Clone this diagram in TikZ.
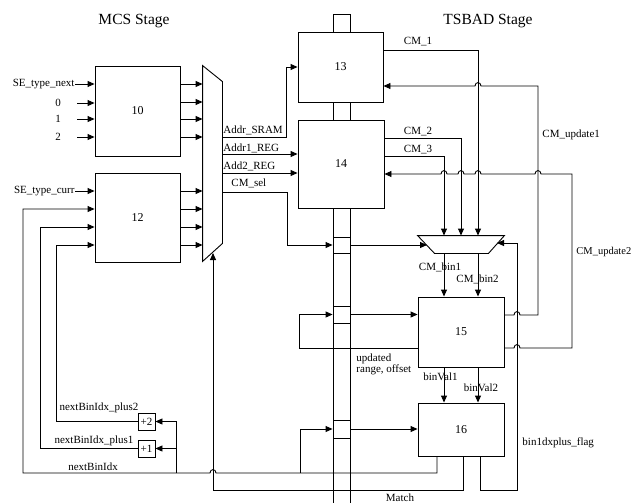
\documentclass[tikz,border=0pt]{standalone}
\usepackage{fontspec}
\setmainfont{Liberation Serif}
\usetikzlibrary{arrows.meta,calc}
\begin{document}
\begin{tikzpicture}[x=1pt,y=-1pt, line width=0.9pt,
  blk/.style={draw, fill=white, inner sep=0pt, font=\fontsize{12}{14}\selectfont},
  regbox/.style={draw, inner sep=0pt, minimum width=17pt},
  lbl/.style={inner sep=0pt, font=\fontsize{11}{12}\selectfont},
  arr/.style={-{Triangle[length=7pt,width=6pt]}},
  ttl/.style={inner sep=0pt, font=\fontsize{15.5}{17}\selectfont}]
\useasboundingbox (0,0) rectangle (632,503);

% titles
\node[ttl] (t1) at (134,21) {MCS Stage};
\node[ttl] (t2) at (488,21) {TSBAD Stage};

% pipeline bar
\draw (333,503) -- (333,14) -- (350,14) -- (350,503);
\node[regbox, minimum height=16pt] (r1) at (341.5,245) {};
\node[regbox, minimum height=17pt] (r2) at (341.5,314.5) {};
\node[regbox, minimum height=18pt] (r3) at (341.5,429) {};

% blocks
\node[blk, minimum width=85pt, minimum height=90pt] (b10) at (137.5,111) {10};
\node[blk, minimum width=85pt, minimum height=89pt] (b12) at (137.5,217.5) {12};
\node[blk, minimum width=85pt, minimum height=70pt] (b13) at (340.5,67) {13};
\node[blk, minimum width=86pt, minimum height=88pt] (b14) at (341,164) {14};
\node[blk, minimum width=86pt, minimum height=70pt] (b15) at (461,332) {15};
\node[blk, minimum width=86pt, minimum height=53pt] (b16) at (461,429.5) {16};
\node[blk, minimum size=17pt, font=\fontsize{11}{12}\selectfont] (p2) at (146.5,421.5) {+2};
\node[blk, minimum size=17pt, font=\fontsize{11}{12}\selectfont] (p1) at (146.5,448.5) {+1};

% left multiplexer
\node[inner sep=0pt, minimum width=19pt, minimum height=195pt] (mux) at (212.5,163.5) {};
\draw (mux.north west) -- ($(mux.north east)+(0,16)$) -- ($(mux.south east)+(0,-18)$) -- (mux.south west) -- cycle;

% CM multiplexer
\node[inner sep=0pt, minimum width=86pt, minimum height=17pt] (cm) at (461,244.5) {};
\draw (cm.north west) -- (cm.north east) -- ($(cm.south east)+(-16,0)$) -- ($(cm.south west)+(17,0)$) -- cycle;

% inputs of block 10
\node[lbl, anchor=east] (sen) at (75,84) {SE\_type\_next};
\draw[arr] (sen.east) -- (b10.west |- sen.east);
\node[lbl] (i0) at (58,103) {0};
\node[lbl] (i1) at (58,119) {1};
\node[lbl] (i2) at (58,137) {2};
\coordinate (c0) at (77,103);
\coordinate (c1) at (77,119);
\coordinate (c2) at (77,137);
\draw[arr] (c0) -- (b10.west |- c0);
\draw[arr] (c1) -- (b10.west |- c1);
\draw[arr] (c2) -- (b10.west |- c2);
\foreach \yy in {84,102,119,137} \draw[arr] (b10.east |- 0,\yy) -- (mux.west |- 0,\yy);

% inputs of block 12
\node[lbl, anchor=east] (sec) at (75,191) {SE\_type\_curr};
\draw[arr] (sec.east) -- (b12.west |- sec.east);
\foreach \yy in {191,209,227,245} \draw[arr] (b12.east |- 0,\yy) -- (mux.west |- 0,\yy);

% +2 / +1 feedback
\draw[arr] (p2.west) -| (56,245) -- (b12.west |- 0,245);
\draw[arr] (p1.west) -| (40,227) -- (b12.west |- 0,227);
\node[lbl, anchor=base] (l2) at (99,410) {nextBinIdx\_plus2};
\node[lbl, anchor=base] (l1) at (94,443) {nextBinIdx\_plus1};
\node[lbl, anchor=base] (l0) at (93,470) {nextBinIdx};

% nextBinIdx from block 16
\draw[arr] (b16.south -| 437,0) -- (437,473) -- (216,473) .. controls (216,468.5) and (210,468.5) .. (210,473) -- (23,473) -- (23,209) -- (b12.west |- 0,209);
\draw[arr] (300,473) |- (r3.west);
\draw[arr] (r3.east) -- (b16.west |- r3.east);
\draw[arr] (176,473) |- (p2.east);
\draw[arr] (p1.east -| 176,0) -- (p1.east);

% Match back to the left multiplexer
\draw[arr] (b16.south -| 463,0) -- (463,490) -- (213,490) -- (213,253);
\node[lbl, anchor=base] (match) at (400,501) {Match};

% bin1dxplus_flag to CM multiplexer
\draw[arr] (b16.south -| 480,0) -- (480,490) -- (517,490) -- (517,243) -- (497,243);
\node[lbl, anchor=base west] (lflag) at (522,445) {bin1dxplus\_flag};

% multiplexer outputs
\draw[arr] (mux.east |- 0,137) -- (286,137) |- (b13.west);
\node[lbl, anchor=base west] (la) at (223,133) {Addr\_SRAM};
\draw[arr] (mux.east |- 0,154) -- (b14.west |- 0,154);
\node[lbl, anchor=base west] (lb) at (223,151) {Addr1\_REG};
\draw[arr] (mux.east |- 0,173) -- (b14.west |- 0,173);
\node[lbl, anchor=base west] (lc) at (223,169) {Add2\_REG};
\draw[arr] (mux.east |- 0,192) -- (287,192) |- (r1.west);
\node[lbl, anchor=base west] (ld) at (231,186) {CM\_sel};
\draw[arr] (r1.east) -- (427,245);

% block 13 / 14 outputs
\draw[arr] (b13.east |- 0,50) -- (478,50) -- (cm.north -| 478,0);
\node[lbl, anchor=base] (lcm1) at (418,45) {CM\_1};
\draw[arr] (b14.east |- 0,138) -- (461,138) -- (cm.north);
\node[lbl, anchor=base] (lcm2) at (418,134) {CM\_2};
\draw[arr] (b14.east |- 0,156) -- (444,156) -- (cm.north -| 444,0);
\node[lbl, anchor=base] (lcm3) at (418,152) {CM\_3};

% CM_update1 / CM_update2
\draw[arr] (b15.east |- 0,315) -- (514,315) .. controls (514,310.5) and (520,310.5) .. (520,315) -- (538,315) -- (538,86)
  -- (481,86) .. controls (481,81.5) and (475,81.5) .. (475,86) -- (b13.east |- 0,86);
\node[lbl, anchor=base west] (lu1) at (542,137) {CM\_update1};
\draw[arr] (b15.east |- 0,348) -- (514,348) .. controls (514,343.5) and (520,343.5) .. (520,348) -- (572,348) -- (572,174)
  -- (541,174) .. controls (541,169.5) and (535,169.5) .. (535,174)
  -- (481,174) .. controls (481,169.5) and (475,169.5) .. (475,174)
  -- (464,174) .. controls (464,169.5) and (458,169.5) .. (458,174)
  -- (447,174) .. controls (447,169.5) and (441,169.5) .. (441,174)
  -- (b14.east |- 0,174);
\node[lbl, anchor=base west, font=\fontsize{10.5}{12}\selectfont] (lu2) at (576,254) {CM\_update2};

% CM multiplexer to block 15
\draw[arr] (cm.south -| 444,0) -- (b15.north -| 444,0);
\node[lbl, anchor=base] (lbin1) at (440,270) {CM\_bin1};
\draw[arr] (cm.south -| 478,0) -- (b15.north -| 478,0);
\node[lbl, anchor=base] (lbin2) at (477.5,282) {CM\_bin2};

% block 15 to block 16
\draw[arr] (b15.south -| 444,0) -- (b16.north -| 444,0);
\node[lbl, anchor=base] (lv1) at (440.5,380) {binVal1};
\draw[arr] (b15.south -| 478,0) -- (b16.north -| 478,0);
\node[lbl, anchor=base] (lv2) at (481,391) {binVal2};

% updated range, offset
\draw[arr] (b15.west |- 0,348) -- (299,348) |- (r2.west);
\draw[arr] (r2.east) -- (b15.west |- r2.east);
\node[lbl, anchor=north west, align=left, font=\fontsize{11}{11}\selectfont] (lupd) at (356,353) {updated\\range, offset};
\end{tikzpicture}
\end{document}
